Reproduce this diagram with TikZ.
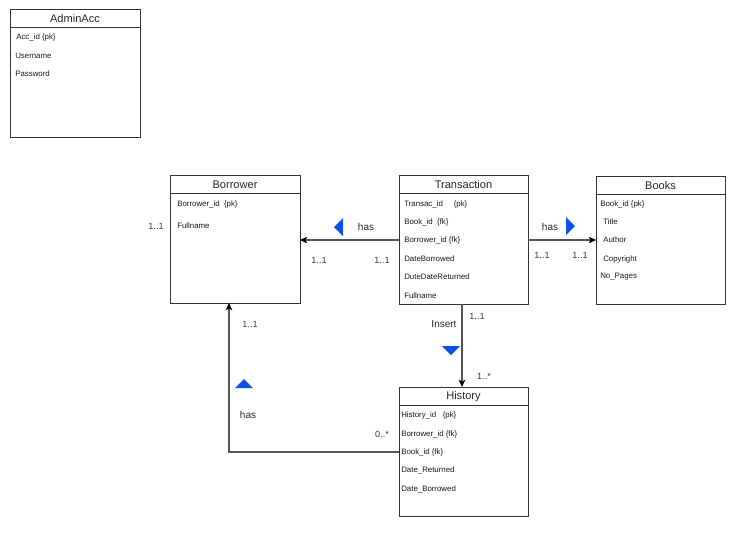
\documentclass[tikz,border=0pt]{standalone}
\usepackage{fontspec}
\setmainfont{Liberation Sans}
\usetikzlibrary{arrows.meta}
\definecolor{bord}{HTML}{333333}
\definecolor{lnk}{HTML}{555555}
\definecolor{tri}{HTML}{0A50EA}
\definecolor{card}{HTML}{3A3A2A}
\tikzset{
  ent/.style={draw=bord, line width=0.9pt, anchor=north west, inner sep=0pt},
  ttl/.style={font=\fontsize{8.3pt}{9pt}\selectfont, text=black!85},
  fld/.style={font=\fontsize{5.9pt}{7pt}\selectfont, anchor=west, inner sep=0pt, text=black!90},
  lab/.style={font=\fontsize{7.5pt}{9pt}\selectfont, text=black!85},
  cardl/.style={font=\fontsize{6.8pt}{8pt}\selectfont, text=card},
  conn/.style={draw=lnk, line width=0.8pt, -{Stealth[length=5.5pt,width=5pt,inset=1.5pt,black]}},
  tri/.style={fill=tri, draw=none}
}
\newcommand{\entbox}[6]{% name, x, y, w, h, title
  \node[ent, minimum width=#4*0.75pt, minimum height=#5*0.75pt] (#1) at (#2,#3) {};
  \draw[bord, line width=0.9pt] (#2,#3+18.5) -- (#2+#4,#3+18.5);
  \node[ttl] (#1-t) at (#2+#4/2,#3+9.5) {#6};
}
\begin{document}
\begin{tikzpicture}[x=0.75pt,y=-0.75pt]
\useasboundingbox (0,0) rectangle (747,551);
% AdminAcc
\entbox{admin}{10}{9}{130}{128}{AdminAcc}
\node[fld] (a1) at (16,37) {Acc\_id {\{}pk\}};
\node[fld] (a2) at (15,56) {Username};
\node[fld] (a3) at (15,74) {Password};
% Borrower
\entbox{borrower}{170}{175}{130}{128}{Borrower}
\node[fld] (b1) at (177,204) {Borrower\_id\ \ {\{}pk\}};
\node[fld] (b2) at (177,226) {Fullname};
% Transaction
\entbox{trans}{399}{175}{129}{129}{Transaction}
\node[fld] (t1) at (404,204) {Transac\_id\ \ \ \ \ {\{}pk\}};
\node[fld] (t2) at (404,222) {Book\_id\ \ {\{}fk\}};
\node[fld] (t3) at (404,240) {Borrower\_id\ {\{}fk\}};
\node[fld] (t4) at (404,259) {DateBorrowed};
\node[fld] (t5) at (404,277) {DuteDateReturned};
\node[fld] (t6) at (404,296) {Fullname};
% Books
\entbox{books}{596}{176}{129}{128}{Books}
\node[fld] (k1) at (600,204) {Book\_id {\{}pk\}};
\node[fld] (k2) at (603,222) {Title};
\node[fld] (k3) at (603,240) {Author};
\node[fld] (k4) at (603,259) {Copyright};
\node[fld] (k5) at (600,277) {No\_Pages};
% History
\entbox{history}{399}{387}{129}{129}{History}
\node[fld] (h1) at (401,415) {History\_id\ \ \ {\{}pk\}};
\node[fld] (h2) at (401,434) {Borrower\_id {\{}fk\}};
\node[fld] (h3) at (401,452) {Book\_id {\{}fk\}};
\node[fld] (h4) at (401,470) {Date\_Returned};
\node[fld] (h5) at (401,489) {Date\_Borrowed};
% connectors
\coordinate (tw) at (399,240);
\coordinate (be) at (300,240);
\coordinate (te) at (528,240);
\coordinate (kw) at (596,240);
\coordinate (ts) at (462,304);
\coordinate (hn) at (462,387);
\coordinate (hw) at (399,452);
\coordinate (bs) at (229,303);
\draw[conn] (tw) -- (be);
\draw[conn] (te) -- (kw);
\draw[conn] (ts) -- (hn);
\draw[conn] (hw) -| (bs);
% labels
\node[lab] (l1) at (366,227) {has};
\fill[tri] (334,227) -- (343,218) -- (343,236) -- cycle;
\node[cardl] (c1) at (319,260) {1..1};
\node[cardl] (c2) at (382,260) {1..1};
\node[cardl] (c0) at (156,226) {1..1};
\node[lab] (l2) at (550,227) {has};
\fill[tri] (575,226) -- (566,217) -- (566,235) -- cycle;
\node[cardl] (c3) at (542,255) {1..1};
\node[cardl] (c4) at (580,255) {1..1};
\node[lab] (l3) at (444,324) {Insert};
\node[cardl] (c5) at (477,316) {1..1};
\fill[tri] (451,355) -- (442,346) -- (460,346) -- cycle;
\node[cardl] (c6) at (484,376) {1..*};
\node[cardl] (c7) at (250,324) {1..1};
\fill[tri] (244,379) -- (235,388) -- (253,388) -- cycle;
\node[lab] (l4) at (248,415) {has};
\node[cardl] (c8) at (382,434) {0..*};
\end{tikzpicture}
\end{document}
